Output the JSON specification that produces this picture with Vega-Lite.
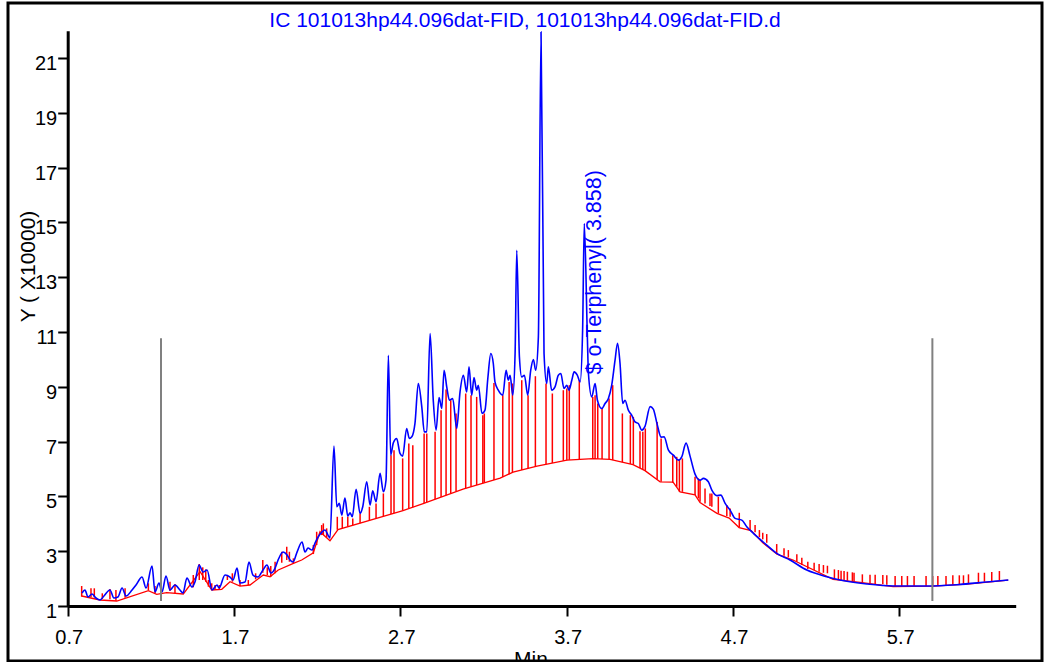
{
  "$schema": "https://vega.github.io/schema/vega-lite/v6.json",
  "width": 1034,
  "height": 658,
  "autosize": {"type": "none"},
  "padding": {"left": 8, "top": 3, "right": 6, "bottom": 1},
  "background": "white",
  "config": {
    "view": {"stroke": "black", "strokeWidth": 3, "fill": "white"},
    "axis": {"grid": false, "labelFont": "Liberation Sans", "titleFont": "Liberation Sans", "labelColor": "black", "titleColor": "black", "titleFontWeight": "normal", "domainColor": "black", "domainWidth": 3, "tickColor": "black", "tickWidth": 2, "tickSize": 10, "labelFontSize": 20, "titleFontSize": 21}
  },
  "title": {"text": "IC 101013hp44.096dat-FID, 101013hp44.096dat-FID.d", "color": "#0000ff", "font": "Liberation Sans", "fontSize": 21, "fontWeight": "normal", "anchor": "middle", "offset": -45, "baseline": "alphabetic"},
  "datasets": {
    "signal": [
      {"t":0.786,"v":1.474},{"t":0.804,"v":1.584},{"t":0.822,"v":1.328},{"t":0.846,"v":1.438},{"t":0.870,"v":1.292},{"t":0.894,"v":1.219},{"t":0.918,"v":1.365},{"t":0.954,"v":1.584},{"t":0.978,"v":1.292},{"t":1.002,"v":1.328},{"t":1.027,"v":1.656},{"t":1.051,"v":1.365},{"t":1.087,"v":1.584},{"t":1.111,"v":1.766},{"t":1.147,"v":2.058},{"t":1.171,"v":1.656},{"t":1.207,"v":2.459},{"t":1.225,"v":1.511},{"t":1.249,"v":1.839},{"t":1.267,"v":1.511},{"t":1.291,"v":2.094},{"t":1.315,"v":1.584},{"t":1.345,"v":1.766},{"t":1.375,"v":1.584},{"t":1.393,"v":1.474},{"t":1.417,"v":2.021},{"t":1.447,"v":1.693},{"t":1.465,"v":1.875},{"t":1.490,"v":2.495},{"t":1.514,"v":2.240},{"t":1.538,"v":2.313},{"t":1.568,"v":1.584},{"t":1.598,"v":1.766},{"t":1.610,"v":1.656},{"t":1.646,"v":2.131},{"t":1.676,"v":2.058},{"t":1.694,"v":1.948},{"t":1.718,"v":2.386},{"t":1.736,"v":1.839},{"t":1.766,"v":1.875},{"t":1.790,"v":2.605},{"t":1.814,"v":2.131},{"t":1.844,"v":2.058},{"t":1.874,"v":2.313},{"t":1.898,"v":2.495},{"t":1.922,"v":2.204},{"t":1.947,"v":2.386},{"t":1.965,"v":2.678},{"t":1.995,"v":2.969},{"t":2.019,"v":2.860},{"t":2.037,"v":2.678},{"t":2.055,"v":2.605},{"t":2.079,"v":2.969},{"t":2.109,"v":3.334},{"t":2.127,"v":2.969},{"t":2.145,"v":3.115},{"t":2.169,"v":3.042},{"t":2.187,"v":3.298},{"t":2.205,"v":3.516},{"t":2.229,"v":3.699},{"t":2.247,"v":3.772},{"t":2.265,"v":3.589},{"t":2.277,"v":3.480},{"t":2.301,"v":6.835},
      {"t":2.318,"v":4.621},{"t":2.333,"v":4.745},{"t":2.348,"v":4.319},{"t":2.367,"v":4.939},{"t":2.384,"v":4.282},{"t":2.398,"v":4.403},{"t":2.411,"v":4.257},{"t":2.434,"v":5.256},{"t":2.458,"v":4.381},{"t":2.474,"v":4.621},{"t":2.498,"v":5.533},{"t":2.518,"v":4.683},{"t":2.534,"v":5.205},{"t":2.554,"v":4.804},{"t":2.578,"v":5.840},{"t":2.598,"v":5.169},{"t":2.614,"v":5.595},{"t":2.628,"v":10.154},{"t":2.642,"v":6.507},{"t":2.658,"v":6.956},{"t":2.678,"v":7.116},{"t":2.698,"v":6.569},{"t":2.714,"v":6.471},{"t":2.738,"v":7.481},{"t":2.754,"v":7.116},{"t":2.769,"v":7.174},{"t":2.788,"v":7.663},{"t":2.808,"v":9.122},{"t":2.829,"v":8.269},{"t":2.844,"v":7.357},{"t":2.859,"v":7.357},{"t":2.879,"v":10.945},{"t":2.898,"v":8.513},{"t":2.915,"v":7.419},{"t":2.933,"v":8.611},{"t":2.949,"v":8.210},{"t":2.963,"v":9.607},{"t":2.979,"v":8.998},{"t":2.995,"v":8.513},{"t":3.015,"v":8.575},{"t":3.039,"v":7.481},{"t":3.059,"v":8.816},{"t":3.079,"v":9.424},{"t":3.099,"v":8.816},{"t":3.113,"v":9.727},{"t":3.129,"v":8.695},{"t":3.143,"v":9.341},{"t":3.159,"v":8.877},{"t":3.169,"v":9.060},{"t":3.191,"v":8.028},{"t":3.209,"v":8.148},{"t":3.226,"v":9.304},{"t":3.244,"v":10.216},{"t":3.259,"v":9.851},{"t":3.269,"v":9.180},{"t":3.289,"v":8.877},{"t":3.316,"v":8.695},{"t":3.336,"v":9.607},{"t":3.349,"v":9.242},{"t":3.360,"v":9.424},{"t":3.376,"v":8.695},{"t":3.390,"v":10.216},{"t":3.400,"v":13.983},{"t":3.416,"v":10.092},{"t":3.430,"v":9.363},{"t":3.446,"v":9.424},{"t":3.466,"v":8.695},{"t":3.484,"v":9.607},{"t":3.500,"v":9.997},{"t":3.514,"v":9.607},{"t":3.530,"v":10.821},{"t":3.546,"v":21.95},{"t":3.564,"v":10.227},{"t":3.580,"v":9.122},{"t":3.590,"v":9.727},{"t":3.610,"v":8.877},{"t":3.630,"v":8.998},{"t":3.650,"v":9.424},{"t":3.665,"v":9.487},{"t":3.684,"v":8.939},{"t":3.701,"v":9.060},{"t":3.714,"v":8.877},{"t":3.731,"v":9.242},{"t":3.745,"v":9.545},{"t":3.764,"v":9.424},{"t":3.781,"v":9.180},{"t":3.796,"v":11.066},{"t":3.806,"v":14.957},{"t":3.824,"v":10.945},{"t":3.831,"v":9.487},{"t":3.851,"v":8.633},{"t":3.871,"v":9.122},{"t":3.885,"v":8.513},{"t":3.911,"v":8.210},{"t":3.931,"v":8.392},{"t":3.951,"v":8.575},{"t":3.971,"v":9.060},{"t":3.991,"v":9.972},{"t":4.006,"v":10.592},{"t":4.021,"v":9.851},{"t":4.037,"v":8.392},{"t":4.051,"v":8.513},{"t":4.071,"v":8.148},{"t":4.091,"v":7.966},{"t":4.111,"v":7.721},{"t":4.131,"v":7.663},{"t":4.152,"v":7.419},{"t":4.171,"v":7.554},{"t":4.202,"v":8.276},{"t":4.221,"v":8.185},{"t":4.244,"v":7.638},{"t":4.268,"v":7.163},{"t":4.286,"v":7.174},{"t":4.312,"v":6.689},{"t":4.342,"v":6.507},{"t":4.372,"v":6.325},{"t":4.392,"v":6.445},{"t":4.418,"v":6.945},{"t":4.442,"v":6.471},{"t":4.472,"v":5.814},{"t":4.502,"v":5.595},{"t":4.522,"v":5.657},{"t":4.552,"v":5.533},{"t":4.573,"v":5.231},{"t":4.603,"v":5.030},{"t":4.627,"v":5.048},{"t":4.653,"v":4.745},{"t":4.683,"v":4.501},{"t":4.713,"v":4.198},{"t":4.753,"v":4.136},{"t":4.783,"v":3.892},{"t":4.823,"v":3.651},{"t":4.863,"v":3.433},{"t":4.903,"v":3.225},{"t":4.963,"v":2.922},{"t":5.043,"v":2.678},{"t":5.144,"v":2.313},{"t":5.264,"v":2.069},{"t":5.344,"v":1.948},{"t":5.505,"v":1.802},{"t":5.665,"v":1.729},{"t":5.865,"v":1.729},{"t":6.046,"v":1.777},{"t":6.226,"v":1.875},{"t":6.356,"v":1.948}
    ],
    "baseline": [
      {"t":0.784,"v":1.365},{"t":0.894,"v":1.219},{"t":0.995,"v":1.182},{"t":1.185,"v":1.558},{"t":1.235,"v":1.427},{"t":1.295,"v":1.485},{"t":1.395,"v":1.438},{"t":1.496,"v":2.251},{"t":1.566,"v":1.584},{"t":1.626,"v":1.609},{"t":1.676,"v":1.886},{"t":1.736,"v":1.729},{"t":1.796,"v":1.766},{"t":1.876,"v":2.131},{"t":1.917,"v":2.069},{"t":1.966,"v":2.313},{"t":2.057,"v":2.557},{"t":2.107,"v":2.678},{"t":2.177,"v":2.944},{"t":2.217,"v":3.710},{"t":2.277,"v":3.381},{"t":2.325,"v":3.790},{"t":2.716,"v":4.483},{"t":2.837,"v":4.738},{"t":3.077,"v":5.267},{"t":3.300,"v":5.668},{"t":3.378,"v":5.887},{"t":3.522,"v":6.106},{"t":3.702,"v":6.325},{"t":3.859,"v":6.379},{"t":3.961,"v":6.350},{"t":4.099,"v":6.160},{"t":4.171,"v":5.942},{"t":4.262,"v":5.533},{"t":4.340,"v":5.522},{"t":4.382,"v":5.169},{"t":4.472,"v":5.059},{"t":4.502,"v":4.775},{"t":4.604,"v":4.381},{"t":4.677,"v":4.209},{"t":4.737,"v":3.863},{"t":4.809,"v":3.753},{"t":4.881,"v":3.298},{"t":4.965,"v":2.896},{"t":5.061,"v":2.678},{"t":5.302,"v":1.974},{"t":5.464,"v":1.864},{"t":5.663,"v":1.711},{"t":5.903,"v":1.729},{"t":6.108,"v":1.802},{"t":6.264,"v":1.886},{"t":6.354,"v":1.948}
    ],
    "drops": [
      {"t":0.784,"v":1.339,"v2":1.729},{"t":0.840,"v":1.317,"v2":1.646},{"t":0.860,"v":1.317,"v2":1.646},{"t":0.908,"v":1.255,"v2":1.463},{"t":0.954,"v":1.244,"v2":1.620},{"t":0.990,"v":1.193,"v2":1.584},{"t":1.045,"v":1.303,"v2":1.646},{"t":1.185,"v":1.584,"v2":1.828},{"t":1.225,"v":1.463,"v2":1.729},{"t":1.315,"v":1.547,"v2":1.886},{"t":1.345,"v":1.463,"v2":1.802},{"t":1.455,"v":1.682,"v2":2.131},{"t":1.491,"v":1.948,"v2":2.532},{"t":1.512,"v":1.948,"v2":2.411},{"t":1.530,"v":1.886,"v2":2.338},{"t":1.546,"v":1.704,"v2":1.948},{"t":1.566,"v":1.584,"v2":1.828},{"t":1.586,"v":1.584,"v2":1.766},{"t":1.612,"v":1.584,"v2":1.766},{"t":1.660,"v":1.948,"v2":2.131},{"t":1.690,"v":1.886,"v2":2.193},{"t":1.736,"v":1.729,"v2":1.948},{"t":1.786,"v":1.766,"v2":1.948},{"t":1.830,"v":1.974,"v2":2.193},{"t":1.873,"v":2.214,"v2":2.678},{"t":1.900,"v":2.131,"v2":2.411},{"t":1.921,"v":2.069,"v2":2.459},{"t":1.947,"v":2.193,"v2":2.616},{"t":1.987,"v":2.579,"v2":2.980},{"t":2.017,"v":2.678,"v2":3.163},{"t":2.033,"v":2.616,"v2":2.980},{"t":2.057,"v":2.557,"v2":2.740},{"t":2.177,"v":2.896,"v2":3.225},{"t":2.197,"v":3.225,"v2":3.710},{"t":2.227,"v":3.589,"v2":3.954},{"t":2.237,"v":3.589,"v2":4.016},{"t":2.257,"v":3.505,"v2":3.834},
      {"t":2.321,"v":3.783,"v2":4.257},{"t":2.351,"v":3.837,"v2":4.257},{"t":2.384,"v":3.892,"v2":4.257},{"t":2.414,"v":3.947,"v2":4.198},{"t":2.458,"v":4.023,"v2":4.381},{"t":2.514,"v":4.122,"v2":4.621},{"t":2.554,"v":4.195,"v2":4.745},{"t":2.598,"v":4.271,"v2":5.110},{"t":2.644,"v":4.355,"v2":6.507},{"t":2.662,"v":4.388,"v2":6.689},{"t":2.714,"v":4.479,"v2":6.387},{"t":2.751,"v":4.556,"v2":6.934},{"t":2.775,"v":4.607,"v2":6.872},{"t":2.843,"v":4.753,"v2":7.298},{"t":2.859,"v":4.786,"v2":7.298},{"t":2.909,"v":4.895,"v2":7.357},{"t":2.945,"v":4.975,"v2":8.148},{"t":2.975,"v":5.041,"v2":8.903},{"t":3.003,"v":5.103,"v2":8.513},{"t":3.035,"v":5.176,"v2":8.028},{"t":3.093,"v":5.296,"v2":8.757},{"t":3.125,"v":5.354,"v2":8.695},{"t":3.159,"v":5.417,"v2":8.633},{"t":3.196,"v":5.482,"v2":7.966},{"t":3.205,"v":5.497,"v2":8.028},{"t":3.263,"v":5.603,"v2":9.144},{"t":3.316,"v":5.712,"v2":8.695},{"t":3.354,"v":5.807,"v2":9.180},{"t":3.374,"v":5.876,"v2":9.122},{"t":3.430,"v":5.964,"v2":9.242},{"t":3.468,"v":6.022,"v2":8.695},{"t":3.512,"v":6.091,"v2":9.388},{"t":3.576,"v":6.171,"v2":9.122},{"t":3.614,"v":6.219,"v2":8.757},{"t":3.680,"v":6.299,"v2":8.877},{"t":3.701,"v":6.321,"v2":8.939},{"t":3.716,"v":6.332,"v2":9.060},{"t":3.776,"v":6.354,"v2":9.242},{"t":3.857,"v":6.379,"v2":8.633},{"t":3.871,"v":6.368,"v2":8.695},{"t":3.887,"v":6.372,"v2":8.392},{"t":3.913,"v":6.365,"v2":8.210},{"t":3.955,"v":6.354,"v2":8.575},{"t":3.977,"v":6.328,"v2":9.060},{"t":4.035,"v":6.248,"v2":8.028},{"t":4.083,"v":6.182,"v2":7.966},{"t":4.101,"v":6.157,"v2":7.904},{"t":4.141,"v":6.033,"v2":7.382},{"t":4.158,"v":5.982,"v2":7.357},{"t":4.173,"v":5.934,"v2":7.481},{"t":4.244,"v":5.617,"v2":7.721},{"t":4.268,"v":5.533,"v2":7.116},{"t":4.338,"v":5.497,"v2":6.507},{"t":4.362,"v":5.351,"v2":6.445},{"t":4.378,"v":5.169,"v2":6.350},{"t":4.396,"v":5.169,"v2":6.387},{"t":4.472,"v":5.048,"v2":5.716},{"t":4.492,"v":4.928,"v2":5.657},{"t":4.502,"v":4.804,"v2":5.595},{"t":4.532,"v":4.745,"v2":5.293},{"t":4.562,"v":4.647,"v2":5.110},{"t":4.573,"v":4.621,"v2":5.110},{"t":4.612,"v":4.381,"v2":4.986},{"t":4.663,"v":4.282,"v2":4.683},{"t":4.683,"v":4.257,"v2":4.563},{"t":4.738,"v":3.860,"v2":4.403},{"t":4.803,"v":3.746,"v2":4.136},
      {"t":4.833,"v":3.688,"v2":3.954},{"t":4.859,"v":3.516,"v2":3.772},{"t":4.879,"v":3.433,"v2":3.673},{"t":4.903,"v":3.309,"v2":3.626},{"t":4.963,"v":2.896,"v2":3.261},{"t":5.007,"v":2.834,"v2":3.104},{"t":5.033,"v":2.776,"v2":3.042},{"t":5.084,"v":2.616,"v2":2.885},{"t":5.114,"v":2.495,"v2":2.761},{"t":5.150,"v":2.349,"v2":2.616},{"t":5.188,"v":2.313,"v2":2.579},{"t":5.218,"v":2.251,"v2":2.532},{"t":5.244,"v":2.214,"v2":2.495},{"t":5.268,"v":2.193,"v2":2.470},{"t":5.310,"v":2.010,"v2":2.338},{"t":5.334,"v":1.974,"v2":2.313},{"t":5.350,"v":1.948,"v2":2.287},{"t":5.368,"v":1.948,"v2":2.276},{"t":5.388,"v":1.923,"v2":2.251},{"t":5.418,"v":1.886,"v2":2.229},{"t":5.428,"v":1.886,"v2":2.214},{"t":5.478,"v":1.850,"v2":2.156},{"t":5.524,"v":1.828,"v2":2.142},{"t":5.555,"v":1.802,"v2":2.142},{"t":5.601,"v":1.802,"v2":2.131},{"t":5.625,"v":1.777,"v2":2.120},{"t":5.675,"v":1.729,"v2":2.094},{"t":5.715,"v":1.729,"v2":2.094},{"t":5.749,"v":1.729,"v2":2.094},{"t":5.789,"v":1.729,"v2":2.094},{"t":5.861,"v":1.729,"v2":2.094},{"t":5.901,"v":1.729,"v2":2.094},{"t":5.932,"v":1.729,"v2":2.094},{"t":5.981,"v":1.755,"v2":2.094},{"t":6.022,"v":1.777,"v2":2.120},{"t":6.061,"v":1.777,"v2":2.120},{"t":6.086,"v":1.802,"v2":2.120},{"t":6.116,"v":1.828,"v2":2.156},{"t":6.176,"v":1.875,"v2":2.214},{"t":6.212,"v":1.886,"v2":2.214},{"t":6.256,"v":1.912,"v2":2.240},{"t":6.302,"v":1.948,"v2":2.276}
    ],
    "markers": [
      {"t":1.261,"v":1.18,"v2":10.77},{"t":5.899,"v":1.18,"v2":10.77}
    ],
    "labels": [
      {"t":3.871,"v":9.45,"label":"$ o-Terphenyl( 3.858)"}
    ]
  },
  "encoding": {
    "x": {"field": "t", "type": "quantitative",
      "scale": {"domain": [0.7, 6.4], "range": [59.7, 1007.7], "nice": false, "zero": false},
      "axis": {"title": "Min", "values": [0.7, 1.7, 2.7, 3.7, 4.7, 5.7], "format": ".1f", "offset": -55, "labelPadding": 27, "labelBaseline": "alphabetic", "labelFlush": false, "labelOverlap": false, "labelOffset": 1, "titleX": 522.5, "titleY": 59, "titleBaseline": "alphabetic", "titleAlign": "center"}},
    "y": {"field": "v", "type": "quantitative",
      "scale": {"domain": [1, 22], "range": [603, 27.7], "nice": false, "zero": false},
      "axis": {"title": "Y ( X10000)", "values": [1, 3, 5, 7, 9, 11, 13, 15, 17, 19, 21], "format": "d", "offset": -59.7, "labelPadding": 1, "labelBaseline": "alphabetic", "labelOffset": 11.5, "labelFlush": false, "labelOverlap": false, "titleAngle": 270, "titleX": -32.7, "titleY": 263, "titleAlign": "center", "titleBaseline": "alphabetic"}}
  },
  "layer": [
    {"data": {"name": "drops"}, "mark": {"type": "rule", "color": "#ff0000", "strokeWidth": 1.5}, "encoding": {"y2": {"field": "v2"}}},
    {"data": {"name": "baseline"}, "mark": {"type": "line", "color": "#ff0000", "strokeWidth": 1.3}, "encoding": {}},
    {"data": {"name": "signal"}, "mark": {"type": "line", "color": "#0000ff", "strokeWidth": 1.6, "interpolate": "monotone"}, "encoding": {}},
    {"data": {"name": "markers"}, "mark": {"type": "rule", "color": "#808080", "strokeWidth": 2}, "encoding": {"y2": {"field": "v2"}}},
    {"data": {"name": "labels"}, "mark": {"type": "text", "color": "#0000ff", "font": "Liberation Sans", "fontSize": 21.5, "angle": 270, "align": "left", "baseline": "middle"}, "encoding": {"text": {"field": "label"}}}
  ]
}
